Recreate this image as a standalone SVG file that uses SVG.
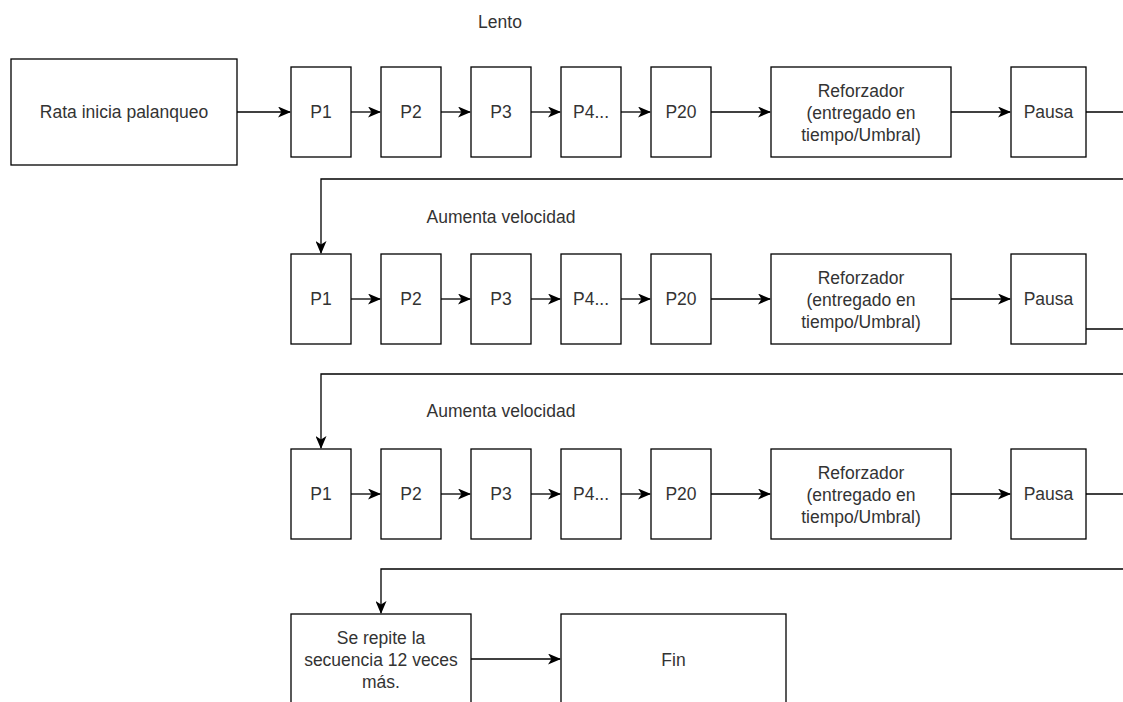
<svg xmlns="http://www.w3.org/2000/svg" width="1123" height="702" viewBox="0 0 1123 702">
  <defs>
    <style>
      .box { fill: #ffffff; stroke: #000000; stroke-width: 1.3; }
      .edge { fill: none; stroke: #000000; stroke-width: 1.3; }
      .lbl { font-family: "Liberation Sans", Arial, sans-serif; font-size: 17.5px; fill: #333333; text-anchor: middle; }
    </style>
    <marker id="arrow" viewBox="0 0 13 11" refX="12" refY="5.5" markerWidth="13" markerHeight="11" markerUnits="userSpaceOnUse" orient="auto">
      <path d="M0,0 L13,5.5 L0,11 L3.5,5.5 Z" fill="#000000"/>
    </marker>
  </defs>
  <rect width="1123" height="702" fill="#ffffff"/>

  <!-- free labels -->
  <text class="lbl" x="500" y="28">Lento</text>
  <text class="lbl" x="501" y="223">Aumenta velocidad</text>
  <text class="lbl" x="501" y="417">Aumenta velocidad</text>

  <!-- connectors -->
  <g id="connectors">
    <!-- row 1 -->
    <line class="edge" x1="237" y1="112" x2="290" y2="112" marker-end="url(#arrow)"/>
    <line class="edge" x1="351" y1="112" x2="380" y2="112" marker-end="url(#arrow)"/>
    <line class="edge" x1="441" y1="112" x2="470" y2="112" marker-end="url(#arrow)"/>
    <line class="edge" x1="531" y1="112" x2="560" y2="112" marker-end="url(#arrow)"/>
    <line class="edge" x1="621" y1="112" x2="650" y2="112" marker-end="url(#arrow)"/>
    <line class="edge" x1="711" y1="112" x2="770" y2="112" marker-end="url(#arrow)"/>
    <line class="edge" x1="951" y1="112" x2="1010" y2="112" marker-end="url(#arrow)"/>
    <line class="edge" x1="1086" y1="112" x2="1123" y2="112"/>
    <polyline class="edge" points="1123,179 321,179 321,253" marker-end="url(#arrow)"/>
    <!-- row 2 -->
    <line class="edge" x1="351" y1="299" x2="380" y2="299" marker-end="url(#arrow)"/>
    <line class="edge" x1="441" y1="299" x2="470" y2="299" marker-end="url(#arrow)"/>
    <line class="edge" x1="531" y1="299" x2="560" y2="299" marker-end="url(#arrow)"/>
    <line class="edge" x1="621" y1="299" x2="650" y2="299" marker-end="url(#arrow)"/>
    <line class="edge" x1="711" y1="299" x2="770" y2="299" marker-end="url(#arrow)"/>
    <line class="edge" x1="951" y1="299" x2="1010" y2="299" marker-end="url(#arrow)"/>
    <line class="edge" x1="1086" y1="329" x2="1123" y2="329"/>
    <polyline class="edge" points="1123,374 321,374 321,448" marker-end="url(#arrow)"/>
    <!-- row 3 -->
    <line class="edge" x1="351" y1="494" x2="380" y2="494" marker-end="url(#arrow)"/>
    <line class="edge" x1="441" y1="494" x2="470" y2="494" marker-end="url(#arrow)"/>
    <line class="edge" x1="531" y1="494" x2="560" y2="494" marker-end="url(#arrow)"/>
    <line class="edge" x1="621" y1="494" x2="650" y2="494" marker-end="url(#arrow)"/>
    <line class="edge" x1="711" y1="494" x2="770" y2="494" marker-end="url(#arrow)"/>
    <line class="edge" x1="951" y1="494" x2="1010" y2="494" marker-end="url(#arrow)"/>
    <line class="edge" x1="1086" y1="494" x2="1123" y2="494"/>
    <polyline class="edge" points="1123,569 381,569 381,613" marker-end="url(#arrow)"/>
    <!-- last row -->
    <line class="edge" x1="471" y1="659" x2="560" y2="659" marker-end="url(#arrow)"/>
  </g>

  <!-- row 1 -->
  <g id="rata"><rect class="box" x="11" y="59" width="226" height="106"/><text class="lbl" x="124" y="118">Rata inicia palanqueo</text></g>
  <g id="r1-p1"><rect class="box" x="291" y="67" width="60" height="90"/><text class="lbl" x="321" y="118">P1</text></g>
  <g id="r1-p2"><rect class="box" x="381" y="67" width="60" height="90"/><text class="lbl" x="411" y="118">P2</text></g>
  <g id="r1-p3"><rect class="box" x="471" y="67" width="60" height="90"/><text class="lbl" x="501" y="118">P3</text></g>
  <g id="r1-p4"><rect class="box" x="561" y="67" width="60" height="90"/><text class="lbl" x="591" y="118">P4...</text></g>
  <g id="r1-p20"><rect class="box" x="651" y="67" width="60" height="90"/><text class="lbl" x="681" y="118">P20</text></g>
  <g id="r1-reforzador"><rect class="box" x="771" y="67" width="180" height="90"/><text class="lbl" x="861" y="97">Reforzador</text><text class="lbl" x="861" y="119">(entregado en</text><text class="lbl" x="861" y="141">tiempo/Umbral)</text></g>
  <g id="r1-pausa"><rect class="box" x="1011" y="67" width="75" height="90"/><text class="lbl" x="1048.5" y="118">Pausa</text></g>

  <!-- row 2 -->
  <g id="r2-p1"><rect class="box" x="291" y="254" width="60" height="90"/><text class="lbl" x="321" y="305">P1</text></g>
  <g id="r2-p2"><rect class="box" x="381" y="254" width="60" height="90"/><text class="lbl" x="411" y="305">P2</text></g>
  <g id="r2-p3"><rect class="box" x="471" y="254" width="60" height="90"/><text class="lbl" x="501" y="305">P3</text></g>
  <g id="r2-p4"><rect class="box" x="561" y="254" width="60" height="90"/><text class="lbl" x="591" y="305">P4...</text></g>
  <g id="r2-p20"><rect class="box" x="651" y="254" width="60" height="90"/><text class="lbl" x="681" y="305">P20</text></g>
  <g id="r2-reforzador"><rect class="box" x="771" y="254" width="180" height="90"/><text class="lbl" x="861" y="284">Reforzador</text><text class="lbl" x="861" y="306">(entregado en</text><text class="lbl" x="861" y="328">tiempo/Umbral)</text></g>
  <g id="r2-pausa"><rect class="box" x="1011" y="254" width="75" height="90"/><text class="lbl" x="1048.5" y="305">Pausa</text></g>

  <!-- row 3 -->
  <g id="r3-p1"><rect class="box" x="291" y="449" width="60" height="90"/><text class="lbl" x="321" y="500">P1</text></g>
  <g id="r3-p2"><rect class="box" x="381" y="449" width="60" height="90"/><text class="lbl" x="411" y="500">P2</text></g>
  <g id="r3-p3"><rect class="box" x="471" y="449" width="60" height="90"/><text class="lbl" x="501" y="500">P3</text></g>
  <g id="r3-p4"><rect class="box" x="561" y="449" width="60" height="90"/><text class="lbl" x="591" y="500">P4...</text></g>
  <g id="r3-p20"><rect class="box" x="651" y="449" width="60" height="90"/><text class="lbl" x="681" y="500">P20</text></g>
  <g id="r3-reforzador"><rect class="box" x="771" y="449" width="180" height="90"/><text class="lbl" x="861" y="479">Reforzador</text><text class="lbl" x="861" y="501">(entregado en</text><text class="lbl" x="861" y="523">tiempo/Umbral)</text></g>
  <g id="r3-pausa"><rect class="box" x="1011" y="449" width="75" height="90"/><text class="lbl" x="1048.5" y="500">Pausa</text></g>

  <!-- closing row -->
  <g id="repite"><rect class="box" x="291" y="614" width="180" height="100"/><text class="lbl" x="381" y="644">Se repite la</text><text class="lbl" x="381" y="666">secuencia 12 veces</text><text class="lbl" x="381" y="688">más.</text></g>
  <g id="fin"><rect class="box" x="561" y="614" width="225" height="100"/><text class="lbl" x="673.5" y="666">Fin</text></g>
</svg>
